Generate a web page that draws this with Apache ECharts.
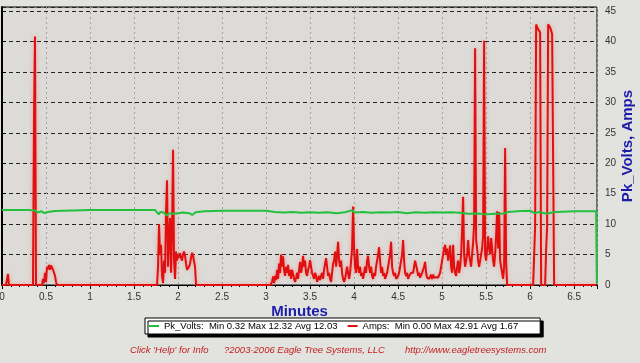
<!DOCTYPE html>
<html><head><meta charset="utf-8">
<script src="https://cdn.jsdelivr.net/npm/echarts@6/dist/echarts.min.js"></script>
<style>html,body{margin:0;padding:0;background:#e2e2de}#c{width:640px;height:363px}</style>
</head><body><div id="c"></div>
<script>
// logger sample period in minutes (one logged sample every ~0.68 s)
const sampleMinutes = 0.011364;
// Amps, one value per logged sample, starting at t = 0
const ampsValues = [
0,0,0,0,0,0,1.8,0,
0,0,0,0,0,0,0,0,0,0,0,0,0,0,0,0,0,0,0,0,0,0,0,
0,28,40.8,0,
0,0,0,0,0,
0,1,0.3,2,0.5,3.0,2.6,3.3,2.5,3.2,3.0,2.5,2.2,1.5,0.5,0,
0,0,0,0,0,0,0,0,0,0,0,0,0,0,0,0,0,0,0,0,0,0,0,0,0,0,0,0,0,0,0,0,0,0,0,0,0,0,0,0,0,0,0,0,0,0,0,0,0,0,
0,0,0,0,0,0,0,0,0,0,0,0,0,0,0,0,0,0,0,0,0,0,0,0,0,0,0,0,0,0,0,0,0,0,0,0,0,0,0,0,0,0,0,0,0,0,0,0,0,0,
3,10,5,6.6,1.5,0.3,4,2,12,17.2,3,8,11,2,9,22.2,4,1,5.5,4,5,4.5,5.2,4.5,4,5,5.5,4.8,3.5,2.5,2.2,3,3.5,4.5,5.3,4.8,5,3,0,
0,0,0,0,0,0,0,0,0,0,0,0,0,0,0,0,0,0,0,0,0,0,0,0,0,0,0,0,0,0,0,0,0,0,0,0,0,
0,0,0,0,0,0,0,0,0,0,0,0,0,0,0,0,0,0,0,0,0,0,0,0,0,0,0,0,0,0,0,0,0,0,0,0,0,
0,0.5,1.4,0.3,1.5,0.8,2.5,1.0,3.5,2,
5,3,4.7,2.5,1.5,3,2,3.3,1.5,2.5,
1,2.5,1.8,1,0.5,1.2,2,1,2.5,3.8,
2,3,4.8,3,4,2,1.5,2.5,3,4.1,
3,2,1.5,1,2,1.5,0.5,1,1.5,0.8,
1.5,2,1,2.5,3.5,4.4,3,1.5,2,1,
0.5,2,3.5,4,5.5,3,5,7.1,4,3,
4,2,1,0.5,1,2,3,2,1,2,
4,6,12.9,6,3,2,5.9,3,2,3,
1.5,2,1,2,3,2,4,4.8,3,2,
3,1.5,1,2,1.5,3,4,5,6.2,4,
2,3,1.5,2,1,1.5,2,3,4,5,
7.1,3,2,1.5,2,1,0.8,1.5,2,3,
4,5,7.4,4,2,1.5,2,1,1.5,1.2,
2,1.8,2,3,4,4.1,2.5,1.5,2,1.2,
1.5,2,2.5,3,3.8,2,1.2,1.5,1,1.2,
1.7,1,1.7,1.2,1,1.3,1,1.2,1.5,2,
3,4,5,6,6.6,5,6,4,5,6.5,
3,2,6.6,3,2,1.5,3,4,2,3,
5,9,14.5,5,3,4,5,7.4,5,4,
3,5,7,10,38.9,7.4,6,4,3,4,
5,6,8,40.1,5,4,6,8,6,5,
7.7,6,4,3,5,8,12.1,6,12,4,
3,2,1,3,22.5,4,0,
0,0,0,0,0,0,0,0,0,0,0,0,0,0,0,0,0,0,0,0,0,0,0,0,0,0,
0,9.6,42.8,42.6,42,41.7,41.5,0,0,0,0,0,5.8,9.6,42.8,42.91,42.3,41.8,41.2,40.9,0,
0,0,0,0,0,0,0,0,0,0,0,0,0,0,0,0,0,0,0,0,0,0,0,0,0,0,0,0,0,0,0,0,0,0,0,0,0,0,0,0,0,0
];
// Pk_Volts readings (minutes, volts)
const voltsTimes = [0,0.30,0.38,0.40,0.42,0.45,0.48,0.52,0.60,0.80,1.00,1.50,1.74,1.78,1.80,1.84,1.87,1.90,1.95,2.00,2.05,2.13,2.16,2.20,2.30,2.50,3.00,3.10,3.20,3.30,3.40,3.50,3.60,3.70,3.80,3.90,3.98,4.00,4.10,4.20,4.30,4.40,4.50,4.60,4.70,4.80,4.90,5.00,5.10,5.20,5.30,5.40,5.50,5.60,5.70,5.75,5.90,6.00,6.05,6.10,6.19,6.25,6.30,6.50,6.75,6.758];
const voltsValues = [12.3,12.3,12.25,11.9,12.2,12.1,11.8,12.0,12.15,12.25,12.3,12.3,12.3,11.6,12.0,11.9,11.4,11.8,11.7,11.8,11.9,11.8,11.5,11.95,12.1,12.2,12.2,12.0,11.9,12.0,11.85,11.95,11.85,11.95,11.8,11.95,12.3,11.9,12.0,11.85,11.95,11.9,12.0,11.8,11.95,11.85,11.95,11.9,11.95,11.85,11.7,11.75,11.6,11.7,11.75,12.0,12.15,12.2,11.8,12.0,11.7,11.9,12.0,12.1,12.1,0.32];

const seriesNames = ['Pk_Volts', 'Amps'];
const seriesColors = ['#22c03c', '#e01010'];
const statMin = [0.32, 0.00];
const statMax = [12.32, 42.91];
const statAvg = [12.03, 1.67];
const xMax = 6.76, xStep = 0.5;
const yMax = 45.66, yStep = 5;
const footerTexts = ["Click 'Help' for Info", "?2003-2006 Eagle Tree Systems, LLC", "http://www.eagletreesystems.com"];

const ampsData = ampsValues.map((v, i) => [i * sampleMinutes, v]);
const voltsData = voltsTimes.map((t, i) => [t, voltsValues[i]]);

const chart = echarts.init(document.getElementById('c'), null, {renderer: 'canvas'});
const FONT = 'Liberation Sans, Arial, sans-serif';
chart.setOption({
  animation: false,
  backgroundColor: '#e2e2de',
  grid: {left: 2, right: 43, top: 7, bottom: 78, containLabel: false, outerBoundsMode: 'none',
         show: true, backgroundColor: '#dcdbd7', borderColor: '#000', borderWidth: 1},
  xAxis: {
    type: 'value', min: 0, max: xMax, interval: xStep,
    axisLine: {onZero: false, lineStyle: {color: '#000', width: 1}},
    axisTick: {length: 4, lineStyle: {color: '#000'}},
    minorTick: {show: true, splitNumber: 5, length: 2, lineStyle: {color: '#000'}},
    axisLabel: {color: '#333', fontSize: 10, fontFamily: FONT, margin: 7, showMaxLabel: false},
    splitLine: {show: true, lineStyle: {color: '#a2a2a0', type: [2, 3], width: 1}},
    name: 'Minutes', nameLocation: 'middle', nameGap: 19, nameMoveOverlap: false,
    nameTextStyle: {color: '#1c1caa', fontSize: 15, fontWeight: 'bold', fontFamily: FONT}
  },
  yAxis: {
    type: 'value', position: 'right', min: 0, max: yMax, interval: yStep,
    axisLine: {show: true, lineStyle: {color: '#000', width: 2}},
    axisTick: {show: true, length: 4, lineStyle: {color: '#000'}},
    axisLabel: {color: '#333', fontSize: 10, fontFamily: FONT, margin: 8, showMaxLabel: false},
    splitLine: {show: true, lineStyle: {color: '#222', type: [4, 3], width: 1}},
    name: 'Pk_Volts, Amps', nameLocation: 'middle', nameGap: 23, nameRotate: 90, nameMoveOverlap: false,
    nameTextStyle: {color: '#1c1caa', fontSize: 15, fontWeight: 'bold', fontFamily: FONT}
  },
  legend: {
    left: 145, top: 318, data: seriesNames, icon: 'rect', itemWidth: 10, itemHeight: 2, itemGap: 10,
    padding: [3, 22, 3, 4], backgroundColor: '#fff', borderColor: '#000', borderWidth: 1,
    shadowColor: '#000', shadowOffsetX: 3, shadowOffsetY: 3, shadowBlur: 0,
    textStyle: {fontSize: 9.5, color: '#000', fontFamily: FONT},
    formatter: name => {
      const i = seriesNames.indexOf(name);
      return name + ':  Min ' + statMin[i].toFixed(2) + ' Max ' + statMax[i].toFixed(2) + ' Avg ' + statAvg[i].toFixed(2);
    }
  },
  graphic: [
    {type: 'text', left: 130, top: 345, style: {text: footerTexts[0], fill: '#c42020', font: 'italic 9.5px ' + FONT}},
    {type: 'text', left: 224, top: 345, style: {text: footerTexts[1], fill: '#c42020', font: 'italic 9.5px ' + FONT}},
    {type: 'text', left: 405, top: 345, style: {text: footerTexts[2], fill: '#c42020', font: 'italic 9.5px ' + FONT}}
  ],
  series: [
    {name: seriesNames[1], type: 'line', data: ampsData, showSymbol: false, symbol: 'none', color: seriesColors[1],
     lineStyle: {color: seriesColors[1], width: 2, shadowColor: 'rgba(255,110,110,0.6)', shadowBlur: 4}},
    {name: seriesNames[0], type: 'line', data: voltsData, showSymbol: false, symbol: 'none', color: seriesColors[0],
     lineStyle: {color: seriesColors[0], width: 2}}
  ]
});
</script></body></html>
